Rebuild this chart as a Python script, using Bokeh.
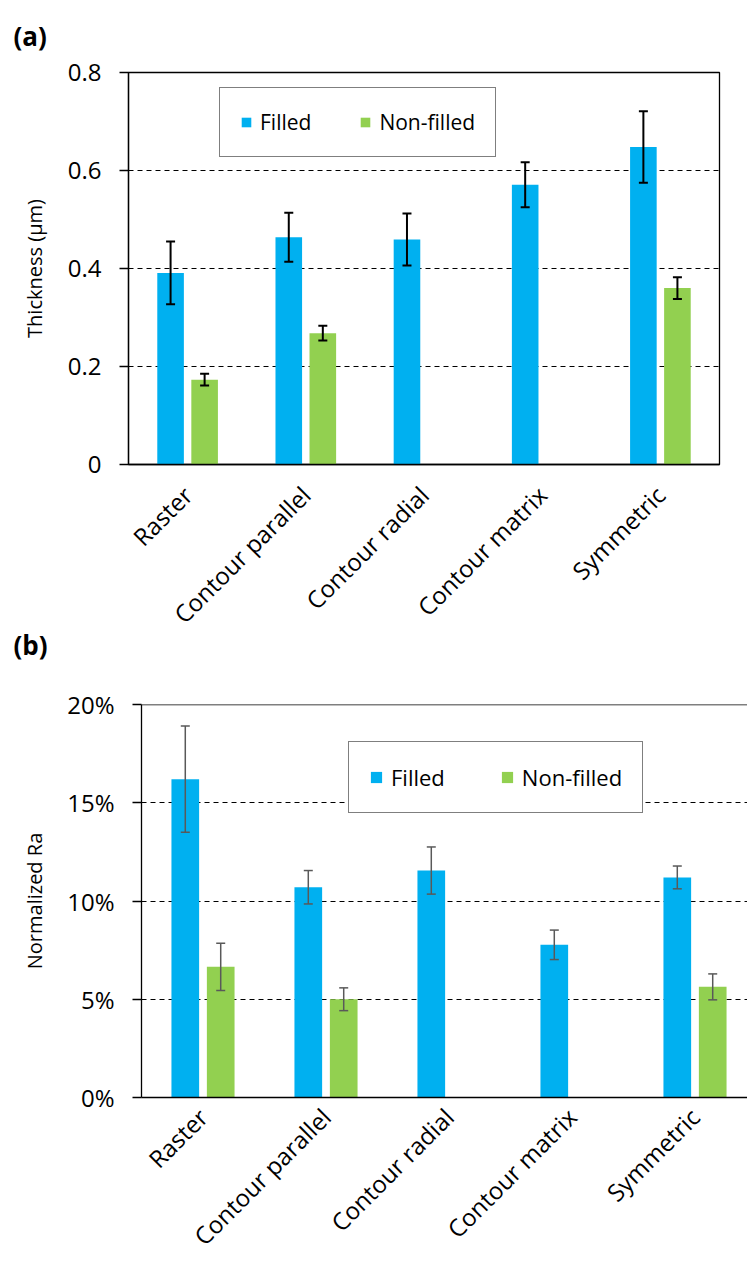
import math
from bokeh.plotting import figure
from bokeh.models import (Range1d, ColumnDataSource, Whisker, TeeHead, Legend,
                          LegendItem, FixedTicker, Span, Title)
from bokeh.embed import file_html
from bokeh.resources import INLINE

# ---------------- data ----------------
categories = ["Raster", "Contour parallel", "Contour radial", "Contour matrix", "Symmetric"]
series_names = ["Filled", "Non-filled"]
panel_tags = ["(a)", "(b)"]

# (a) thickness (µm)
thickness_filled = [0.391, 0.464, 0.459, 0.571, 0.648]
thickness_filled_err = [0.064, 0.050, 0.053, 0.046, 0.073]
thickness_nonfilled = [0.173, 0.268, None, None, 0.360]
thickness_nonfilled_err = [0.012, 0.015, None, None, 0.022]
thickness_ticks = [0, 0.2, 0.4, 0.6, 0.8]
thickness_tick_labels = ["0", "0.2", "0.4", "0.6", "0.8"]

# (b) normalized Ra (%)
ra_filled = [16.2, 10.7, 11.55, 7.77, 11.2]
ra_filled_err = [2.7, 0.85, 1.2, 0.75, 0.58]
ra_nonfilled = [6.65, 5.0, None, None, 5.63]
ra_nonfilled_err = [1.2, 0.58, None, None, 0.66]
ra_ticks = [0, 5, 10, 15, 20]
ra_tick_labels = ["0%", "5%", "10%", "15%", "20%"]

# ---------------- style ----------------
FONT = "Open Sans"
BLUE = "#00B0F0"
GREEN = "#92D050"
BAR_W = 0.225
DODGE = 0.144


def tag_title(text, offset, standoff):
    return Title(text=text, align="left", vertical_align="top", offset=offset,
                 standoff=standoff, text_font=FONT, text_font_size="26px",
                 text_font_style="bold", text_color="black")


def series_source(vals, errs, shift):
    idx = [i for i, v in enumerate(vals) if v is not None]
    return ColumnDataSource(dict(
        x=[i + 0.5 + shift for i in idx],
        top=[vals[i] for i in idx],
        upper=[vals[i] + errs[i] for i in idx],
        lower=[vals[i] - errs[i] for i in idx],
    ))


def make_panel(filled, filled_err, nonfilled, nonfilled_err, ylabel,
               yticks, ytick_labels, width, height, border, x_end,
               err_color, err_width, legend_loc, legend_spacing, legend_glyph,
               legend_font, xlabel_standoff, axis_label_standoff, boxed):
    bl, br, bt, bb = border
    p = figure(width=width, height=height,
               x_range=Range1d(0, x_end),
               y_range=Range1d(yticks[0], yticks[-1]),
               output_backend="svg", toolbar_location=None,
               min_border_left=bl, min_border_right=br,
               min_border_top=bt, min_border_bottom=bb)
    p.background_fill_color = "white"
    p.border_fill_color = "white"

    # bars
    src_f = series_source(filled, filled_err, -DODGE)
    src_n = series_source(nonfilled, nonfilled_err, DODGE)
    rf = p.vbar(x="x", top="top", width=BAR_W, source=src_f,
                fill_color=BLUE, line_color=None)
    rn = p.vbar(x="x", top="top", width=BAR_W, source=src_n,
                fill_color=GREEN, line_color=None)

    # error bars
    for src in (src_f, src_n):
        w = Whisker(source=src, base="x", upper="upper", lower="lower",
                    line_color=err_color, line_width=err_width, level="overlay",
                    upper_head=TeeHead(size=9, line_color=err_color, line_width=err_width),
                    lower_head=TeeHead(size=9, line_color=err_color, line_width=err_width))
        p.add_layout(w)

    # x axis: categories, rotated 45 degrees
    cat_pos = [i + 0.5 for i in range(len(categories))]
    p.xaxis.ticker = FixedTicker(ticks=cat_pos)
    p.xaxis.major_label_overrides = dict(zip(cat_pos, categories))
    p.xaxis.major_label_orientation = math.pi / 4
    p.xaxis.major_tick_in = 0
    p.xaxis.major_tick_out = 0
    p.xaxis.minor_tick_line_color = None
    p.xaxis.major_tick_line_color = None
    p.xaxis.axis_line_color = "black"
    p.xaxis.axis_line_width = 1.3
    p.xaxis.major_label_text_font = FONT
    p.xaxis.major_label_text_font_size = "24px"
    p.xaxis.major_label_text_color = "black"
    p.xaxis.major_label_standoff = xlabel_standoff
    p.xgrid.visible = False

    # y axis
    ticker = FixedTicker(ticks=yticks)
    p.yaxis.ticker = ticker
    p.ygrid.ticker = ticker
    p.yaxis.major_label_overrides = dict(zip(yticks, ytick_labels))
    p.yaxis.minor_tick_line_color = None
    p.yaxis.major_tick_in = 0
    p.yaxis.major_tick_out = 9
    p.yaxis.major_tick_line_color = "black"
    p.yaxis.major_tick_line_width = 1.3
    p.yaxis.axis_line_color = "black"
    p.yaxis.axis_line_width = 1.3
    p.yaxis.major_label_text_font = FONT
    p.yaxis.major_label_text_font_size = "24px"
    p.yaxis.major_label_text_color = "black"
    p.yaxis.major_label_standoff = 18
    p.yaxis.axis_label = ylabel
    p.yaxis.axis_label_text_font = FONT
    p.yaxis.axis_label_text_font_size = "20px"
    p.yaxis.axis_label_text_font_style = "normal"
    p.yaxis.axis_label_text_color = "black"
    p.yaxis.axis_label_standoff = axis_label_standoff
    p.ygrid.grid_line_color = "black"
    p.ygrid.grid_line_dash = "5 4"
    p.ygrid.grid_line_width = 1

    if boxed:
        p.outline_line_color = "black"
        p.outline_line_width = 1.3
        p.outline_line_alpha = 1
    else:
        p.outline_line_color = None
        p.add_layout(Span(location=yticks[-1], dimension="width",
                          line_color="black", line_width=1.3))

    # legend
    legend = Legend(items=[LegendItem(label=series_names[0], renderers=[rf]),
                           LegendItem(label=series_names[1], renderers=[rn])],
                    location=legend_loc, orientation="horizontal",
                    glyph_width=legend_glyph, glyph_height=legend_glyph,
                    label_text_font=FONT, label_text_font_size=legend_font,
                    label_text_color="black", label_standoff=8,
                    spacing=legend_spacing, padding=20, margin=0,
                    border_line_color="black", border_line_width=1.3,
                    background_fill_color="white", background_fill_alpha=1)
    p.add_layout(legend)
    return p


pa = make_panel(thickness_filled, thickness_filled_err,
                thickness_nonfilled, thickness_nonfilled_err, "Thickness (µm)",
                thickness_ticks, thickness_tick_labels,
                width=747, height=680, border=(128, 28, 72, 216), x_end=5,
                err_color="black", err_width=2, legend_loc=(91, 307),
                legend_spacing=48, legend_glyph=12, legend_font="21px",
                xlabel_standoff=26, axis_label_standoff=17, boxed=True)
# "(a)" above panel (a); "(b)" sits in the gap under panel (a)'s category labels
pa.add_layout(tag_title(panel_tags[0], -115, 34), "above")
pa.add_layout(tag_title(panel_tags[1], -115, -36), "below")

pb = make_panel(ra_filled, ra_filled_err,
                ra_nonfilled, ra_nonfilled_err, "Normalized Ra",
                ra_ticks, ra_tick_labels,
                width=747, height=586, border=(141, 0, 24, 169), x_end=606 / 123,
                err_color="#595959", err_width=1.5, legend_loc=(207, 284),
                legend_spacing=55, legend_glyph=14, legend_font="22px",
                xlabel_standoff=15, axis_label_standoff=16, boxed=False)

# two independent roots so that the two plot frames are not aligned to each other
open("out.html", "w").write(file_html([pa, pb], INLINE))
